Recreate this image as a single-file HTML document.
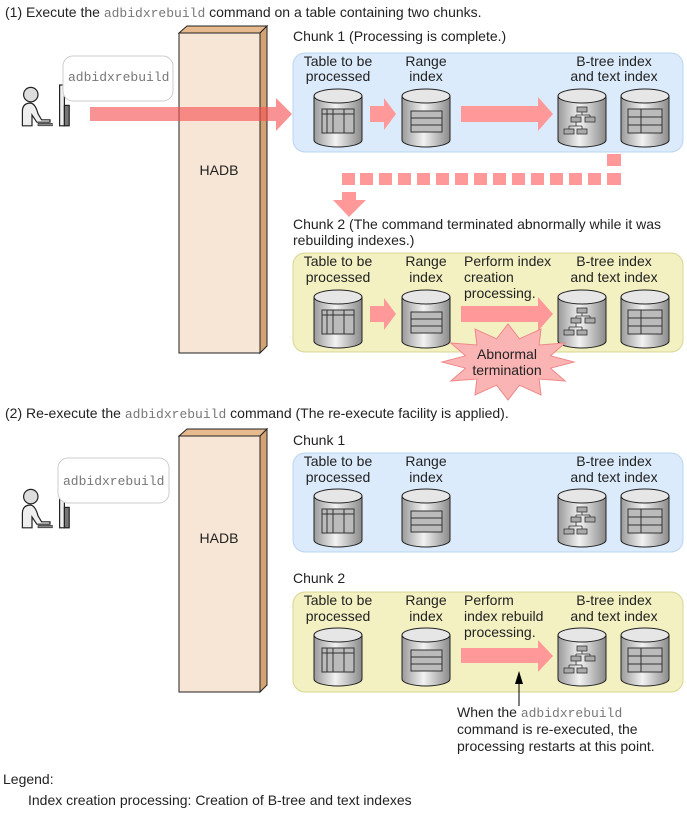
<!DOCTYPE html>
<html><head><meta charset="utf-8"><style>
html,body{margin:0;padding:0;background:#fff;width:687px;height:813px;overflow:hidden}
svg{display:block}
text{font-family:"Liberation Sans",Arial,sans-serif;font-size:14px;fill:#222}
.m{font-family:"Liberation Mono",monospace;fill:#777;font-size:13px}
.c{text-anchor:middle}
</style></head><body>
<svg width="687" height="813" viewBox="0 0 687 813" xmlns="http://www.w3.org/2000/svg">
<defs>
<linearGradient id="cg" x1="0" x2="1" y1="0" y2="0">
<stop offset="0" stop-color="#9a9a9a"/><stop offset="0.45" stop-color="#f2f2f2"/><stop offset="1" stop-color="#8a8a8a"/>
</linearGradient>
<g id="cyl">
<path d="M0 7 V51 A24 7 0 0 0 48 51 V7" fill="url(#cg)" stroke="#222" stroke-width="1"/>
<ellipse cx="24" cy="7" rx="24" ry="7" fill="#e6e6e6" stroke="#222"/>
</g>
<g id="ctab"><use href="#cyl"/>
<rect x="8" y="20" width="32" height="24" fill="#bbb" stroke="#333"/>
<line x1="8" y1="25" x2="40" y2="25" stroke="#333"/><line x1="13" y1="20" x2="13" y2="44" stroke="#333"/>
<line x1="19" y1="20" x2="19" y2="44" stroke="#333"/><line x1="30" y1="20" x2="30" y2="44" stroke="#333"/></g>
<g id="crng"><use href="#cyl"/>
<rect x="9" y="22" width="31" height="21" fill="#bbb" stroke="#333"/>
<line x1="9" y1="29" x2="40" y2="29" stroke="#333"/><line x1="9" y1="36" x2="40" y2="36" stroke="#333"/></g>
<g id="cbt"><use href="#cyl"/>
<g fill="#aaa" stroke="#333" stroke-width="0.8">
<rect x="19" y="18" width="10" height="5"/><rect x="13" y="28" width="10" height="5"/><rect x="27" y="28" width="10" height="5"/>
<rect x="6" y="40" width="10" height="5"/><rect x="19" y="40" width="10" height="5"/></g>
<path d="M24 23 V26 M18 26 H32 M18 26V28 M32 26V28 M18 33V37 M11 37H24 M11 37V40 M24 37V40" stroke="#333" fill="none" stroke-width="0.8"/></g>
<g id="ctx"><use href="#cyl"/>
<rect x="7" y="20" width="34" height="24" fill="#bbb" stroke="#333"/>
<line x1="7" y1="28" x2="41" y2="28" stroke="#333"/><line x1="7" y1="36" x2="41" y2="36" stroke="#333"/>
<line x1="20" y1="20" x2="20" y2="44" stroke="#333"/></g>
<g id="person">
<circle cx="9" cy="8" r="6" fill="#ddd" stroke="#222"/>
<path d="M2 34 V22 Q2 15 9 15 Q13 16 15 24 L18 29 H25 V31 H14 L10 25 V34 Z" fill="#eee" stroke="#222"/>
<rect x="15" y="32" width="12" height="2" fill="#888" stroke="#222" stroke-width="0.5"/>
<rect x="33" y="0" width="4" height="34" fill="#eee" stroke="#222"/>
<rect x="37" y="17" width="4" height="17" fill="#777" stroke="#222"/>
</g>
</defs>

<text x="5" y="17">(1) Execute the <tspan class="m">adbidxrebuild</tspan> command on a table containing two chunks.</text>

<polygon points="179,33 187,26 267,26 260,33" fill="#e7b98e" stroke="#222"/>
<polygon points="260,33 267,26 267,346 260,353" fill="#d4a373" stroke="#222"/>
<rect x="179" y="33" width="81" height="320" fill="#f7e5d6" stroke="#222"/>
<text x="219" y="175" class="c">HADB</text>

<use href="#person" transform="translate(20,85) scale(1.2)"/>
<rect x="63" y="56" width="110" height="45" rx="10" fill="#fff" stroke="#ccc"/>
<text x="68" y="81" class="m">adbidxrebuild</text>
<polygon points="90,107 276,107 276,98 292,114 276,131 276,121 90,121" fill="rgba(245,80,80,0.62)"/>

<text x="293" y="41">Chunk 1 (Processing is complete.)</text>
<rect x="293" y="53" width="390" height="99" rx="12" fill="#dcebfb" stroke="#b9d4f0"/>
<text x="338" y="66" class="c">Table to be</text><text x="338" y="81" class="c">processed</text>
<text x="426" y="66" class="c">Range</text><text x="426" y="81" class="c">index</text>
<text x="614" y="66" class="c">B-tree index</text><text x="614" y="81" class="c">and text index</text>
<use href="#ctab" x="314" y="89"/><use href="#crng" x="402" y="89"/>
<use href="#cbt" x="558" y="89"/><use href="#ctx" x="621" y="89"/>
<polygon points="370,106 384,106 384,98 396,114 384,130 384,122 370,122" fill="#f99"/>
<polygon points="461,106 538,106 538,97 553,114 538,131 538,122 461,122" fill="#f99"/>

<g fill="#f99">
<rect x="607" y="154" width="14" height="12"/>
<rect x="607" y="173" width="14" height="12"/><rect x="588" y="173" width="13" height="12"/>
<rect x="569" y="173" width="13" height="12"/><rect x="550" y="173" width="13" height="12"/>
<rect x="531" y="173" width="13" height="12"/><rect x="512" y="173" width="13" height="12"/>
<rect x="493" y="173" width="13" height="12"/><rect x="474" y="173" width="13" height="12"/>
<rect x="455" y="173" width="13" height="12"/><rect x="436" y="173" width="13" height="12"/>
<rect x="417" y="173" width="13" height="12"/><rect x="398" y="173" width="13" height="12"/>
<rect x="379" y="173" width="13" height="12"/><rect x="360" y="173" width="13" height="12"/>
<rect x="342" y="173" width="13" height="12"/>
<polygon points="342,192 356,192 356,200 366,200 349,217 333,200 342,200"/>
</g>

<text x="293" y="229">Chunk 2 (The command terminated abnormally while it was</text>
<text x="293" y="245">rebuilding indexes.)</text>
<rect x="293" y="253" width="390" height="99" rx="12" fill="#f3f1c2" stroke="#d8d592"/>
<text x="338" y="266" class="c">Table to be</text><text x="338" y="282" class="c">processed</text>
<text x="426" y="266" class="c">Range</text><text x="426" y="282" class="c">index</text>
<text x="464" y="266">Perform index</text><text x="464" y="282">creation</text><text x="464" y="298">processing.</text>
<text x="614" y="266" class="c">B-tree index</text><text x="614" y="282" class="c">and text index</text>
<use href="#ctab" x="314" y="290"/><use href="#crng" x="402" y="290"/>
<use href="#cbt" x="558" y="290"/><use href="#ctx" x="621" y="290"/>
<polygon points="370,306 384,306 384,298 396,314 384,330 384,322 370,322" fill="#f99"/>
<polygon points="461,306 538,306 538,297 553,314 538,331 538,322 461,322" fill="#f99"/>
<polygon points="574,362 550.5,368.2 565.2,381 539.1,379 541,394.9 519.4,385.2 508,400 496.6,385.2 475,394.9 476.9,379 450.8,381 465.5,368.2 442,362 465.5,355.8 450.8,343 476.9,345 475,329.1 496.6,338.8 508,324 519.4,338.8 541,329.1 539.1,345 565.2,343 550.5,355.8" fill="#fbb4b4" stroke="#e88" stroke-width="1"/>
<text x="507" y="359" class="c">Abnormal</text><text x="507" y="375" class="c">termination</text>

<text x="5" y="418">(2) Re-execute the <tspan class="m">adbidxrebuild</tspan> command (The re-execute facility is applied).</text>
<polygon points="179,436 187,429 267,429 260,436" fill="#e7b98e" stroke="#222"/>
<polygon points="260,436 267,429 267,685 260,692" fill="#d4a373" stroke="#222"/>
<rect x="179" y="436" width="81" height="256" fill="#f7e5d6" stroke="#222"/>
<text x="219" y="543" class="c">HADB</text>
<use href="#person" transform="translate(20,487) scale(1.2)"/>
<rect x="58" y="458" width="111" height="45" rx="10" fill="#fff" stroke="#ccc"/>
<text x="63" y="485" class="m">adbidxrebuild</text>

<text x="293" y="445">Chunk 1</text>
<rect x="293" y="453" width="390" height="99" rx="12" fill="#dcebfb" stroke="#b9d4f0"/>
<text x="338" y="466" class="c">Table to be</text><text x="338" y="482" class="c">processed</text>
<text x="426" y="466" class="c">Range</text><text x="426" y="482" class="c">index</text>
<text x="614" y="466" class="c">B-tree index</text><text x="614" y="482" class="c">and text index</text>
<use href="#ctab" x="314" y="489"/><use href="#crng" x="402" y="489"/>
<use href="#cbt" x="558" y="489"/><use href="#ctx" x="621" y="489"/>

<text x="293" y="583">Chunk 2</text>
<rect x="293" y="592" width="390" height="100" rx="12" fill="#f3f1c2" stroke="#d8d592"/>
<text x="338" y="605" class="c">Table to be</text><text x="338" y="621" class="c">processed</text>
<text x="426" y="605" class="c">Range</text><text x="426" y="621" class="c">index</text>
<text x="464" y="605">Perform</text><text x="464" y="621">index rebuild</text><text x="464" y="637">processing.</text>
<text x="614" y="605" class="c">B-tree index</text><text x="614" y="621" class="c">and text index</text>
<use href="#ctab" x="314" y="628"/><use href="#crng" x="402" y="628"/>
<use href="#cbt" x="558" y="628"/><use href="#ctx" x="621" y="628"/>
<polygon points="461,648 538,648 538,640 553,656 538,672 538,663 461,663" fill="#f99"/>
<line x1="519" y1="683" x2="519" y2="706" stroke="#000"/>
<polygon points="515,684 519,671 523,684" fill="#000"/>
<text x="457" y="717">When the <tspan class="m">adbidxrebuild</tspan></text>
<text x="457" y="734">command is re-executed, the</text>
<text x="457" y="751">processing restarts at this point.</text>

<text x="3" y="784">Legend:</text>
<text x="28" y="805">Index creation processing: Creation of B-tree and text indexes</text>
</svg>
</body></html>
